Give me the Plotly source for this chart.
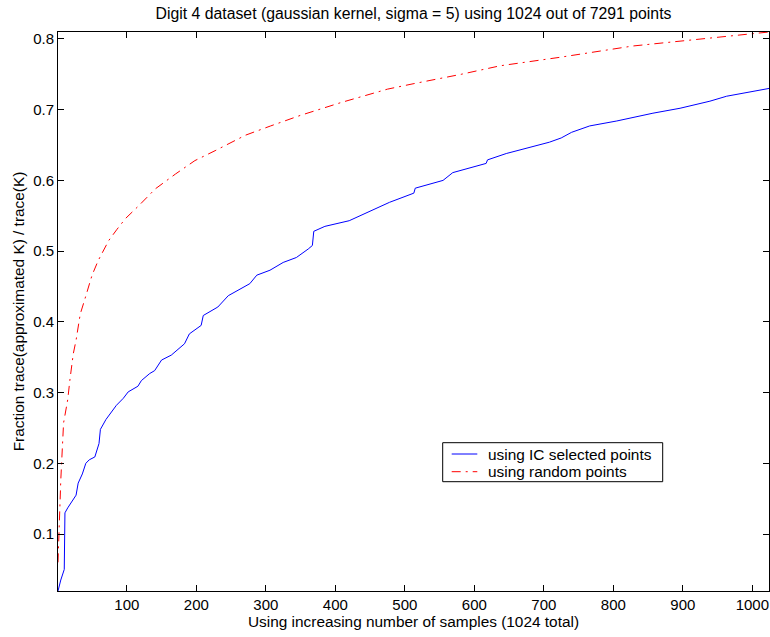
import plotly.graph_objects as go

# IC selected points (blue)
ic_x = [1, 5, 10, 11, 15, 20, 27, 30, 36, 41, 46, 54, 60, 62, 70, 85, 95, 102, 116, 121,
        133, 140, 150, 164, 183, 190, 207, 210, 231, 246, 260, 277, 287, 306, 325, 344,
        361, 367, 369, 385, 420, 450, 478, 513, 515, 555, 569, 617, 619, 646, 684, 708,
        725, 740, 766, 805, 857, 896, 939, 963, 1024]
ic_y = [0.0195, 0.035, 0.05, 0.13, 0.137, 0.145, 0.155, 0.172, 0.185, 0.2, 0.205, 0.209,
        0.228, 0.248, 0.262, 0.282, 0.292, 0.301, 0.309, 0.317, 0.327, 0.331, 0.346,
        0.353, 0.369, 0.383, 0.395, 0.409, 0.421, 0.437, 0.445, 0.454, 0.466, 0.473,
        0.484, 0.491, 0.503, 0.508, 0.528, 0.535, 0.543, 0.556, 0.569, 0.582, 0.589,
        0.600, 0.611, 0.624, 0.629, 0.638, 0.648, 0.654, 0.660, 0.668, 0.677, 0.684,
        0.695, 0.702, 0.712, 0.719, 0.730]

# random points (red)
rnd_x = [1, 3, 5, 9, 15, 18, 23, 27, 33, 39, 45, 50, 59, 74, 86, 98, 117, 141, 170, 198,
         227, 251, 271, 307, 350, 408, 475, 514, 581, 637, 723, 828, 905, 972, 1024]
rnd_y = [0.06, 0.12, 0.176, 0.257, 0.290, 0.317, 0.355, 0.374, 0.411, 0.430, 0.449, 0.466,
         0.487, 0.515, 0.531, 0.546, 0.564, 0.588, 0.609, 0.628, 0.642, 0.654, 0.664,
         0.677, 0.692, 0.710, 0.729, 0.737, 0.750, 0.762, 0.774, 0.790, 0.798, 0.805,
         0.8098]

series_names = ["using IC selected points", "using random points"]
series_colors = ["#0000ff", "#ff0000"]
series_dashes = ["solid", "9px,5px,2px,5px"]

x_ticks = [100, 200, 300, 400, 500, 600, 700, 800, 900, 1000]
y_ticks = [0.1, 0.2, 0.3, 0.4, 0.5, 0.6, 0.7, 0.8]

FONT = "Liberation Sans, Arial, Helvetica, sans-serif"
W, H = 770, 637
ML, MR, MT, MB = 58, 1, 32, 46
PW, PH = W - ML - MR, H - MT - MB


def px2x(px):
    return (px - ML) / PW


def py2y(py):
    return (H - MB - py) / PH


fig = go.Figure()
for xs, ys, nm, col, ds in zip([ic_x, rnd_x], [ic_y, rnd_y], series_names,
                               series_colors, series_dashes):
    fig.add_trace(go.Scatter(x=xs, y=ys, mode="lines", name=nm, showlegend=False,
                             line=dict(color=col, width=1, dash=ds)))

# manual legend (box, line samples, labels)
shapes = [dict(type="rect", xref="paper", yref="paper",
               x0=px2x(442.7), x1=px2x(662.7), y0=py2y(481.7), y1=py2y(442.7),
               line=dict(color="black", width=1), fillcolor="white", layer="above")]
annotations = []
for i, (nm, col, ds) in enumerate(zip(series_names, series_colors, series_dashes)):
    yy = py2y(454 + i * 17.7)
    shapes.append(dict(type="line", xref="paper", yref="paper",
                       x0=px2x(451.7), x1=px2x(477.3), y0=yy, y1=yy,
                       line=dict(color=col, width=1, dash=ds), layer="above"))
    annotations.append(dict(text=nm, xref="paper", yref="paper", x=px2x(486),
                            y=yy, xanchor="left", yanchor="middle", showarrow=False,
                            font=dict(family=FONT, size=15.4, color="black")))

fig.update_layout(
    width=W, height=H,
    margin=dict(l=ML, r=MR, t=MT, b=MB),
    paper_bgcolor="white", plot_bgcolor="white",
    font=dict(family=FONT, size=15, color="black"),
    title=dict(text="Digit 4 dataset (gaussian kernel, sigma = 5) using 1024 out of 7291 points",
               x=(ML + W - MR) / 2 / W, xanchor="center", y=1 - 13 / H, yanchor="middle",
               font=dict(family=FONT, size=15.8, color="black")),
    showlegend=False,
    shapes=shapes,
    annotations=annotations,
)
fig.update_xaxes(range=[1, 1024], tickvals=x_ticks, ticks="inside", ticklen=6,
                 tickcolor="black", showline=True, linecolor="black", linewidth=1,
                 mirror="allticks", showgrid=False, zeroline=False,
                 tickfont=dict(size=15),
                 title=dict(text="Using increasing number of samples (1024 total)",
                            standoff=2, font=dict(size=15.4)))
fig.update_yaxes(range=[0.0195, 0.8098], tickvals=y_ticks, tickformat=".1f",
                 ticks="inside", ticklen=6,
                 tickcolor="black", showline=True, linecolor="black", linewidth=1,
                 mirror="allticks", showgrid=False, zeroline=False,
                 tickfont=dict(size=15),
                 title=dict(text="Fraction trace(approximated K) / trace(K)",
                            standoff=4, font=dict(size=15.4)))

fig.write_html("out.html")
